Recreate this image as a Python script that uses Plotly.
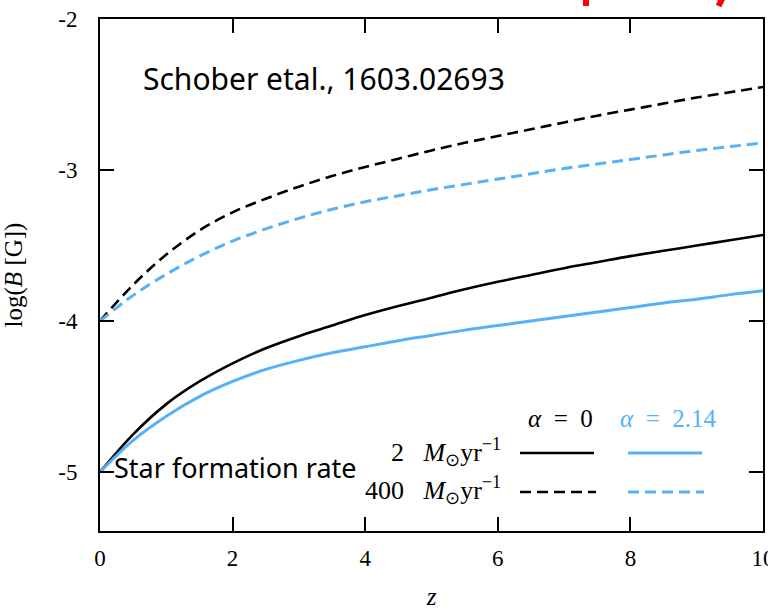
import plotly.graph_objects as go

# redshift grid
z = [0, 0.5, 1, 1.5, 2, 2.5, 3, 3.5, 4, 4.5, 5, 5.5, 6, 6.5, 7, 7.5, 8, 8.5, 9, 9.5, 10]

# log(B [G]) curves
sfr2_alpha0 = [-5.00, -4.75, -4.55, -4.40, -4.28, -4.18, -4.10, -4.03, -3.96, -3.90, -3.845,
               -3.79, -3.74, -3.695, -3.65, -3.61, -3.57, -3.535, -3.50, -3.465, -3.43]
sfr2_alpha214 = [-5.00, -4.79, -4.63, -4.50, -4.40, -4.32, -4.26, -4.21, -4.17, -4.13, -4.095,
                 -4.06, -4.03, -4.00, -3.97, -3.94, -3.91, -3.88, -3.855, -3.825, -3.80]
sfr400_alpha0 = [-4.00, -3.76, -3.56, -3.40, -3.28, -3.19, -3.11, -3.04, -2.98, -2.925, -2.87,
                 -2.82, -2.775, -2.73, -2.685, -2.64, -2.60, -2.56, -2.52, -2.485, -2.45]
sfr400_alpha214 = [-4.00, -3.83, -3.69, -3.57, -3.47, -3.39, -3.32, -3.26, -3.21, -3.17, -3.13,
                   -3.095, -3.06, -3.025, -2.99, -2.96, -2.93, -2.90, -2.87, -2.845, -2.82]

x_ticks = [0, 2, 4, 6, 8, 10]
x_ticktext = ["0", "2", "4", "6", "8", "10"]
y_ticks = [-5, -4, -3, -2]
y_ticktext = ["-5", "-4", "-3", "-2"]

BLACK = "#000000"
BLUE = "#56B1F7"
SERIF = "Liberation Serif"
COMIC = "Noto Sans"
DASH = "11px,6px"

fig = go.Figure()
series = [
    (sfr400_alpha0, BLACK, DASH, 2.6),
    (sfr400_alpha214, BLUE, DASH, 3),
    (sfr2_alpha0, BLACK, "solid", 2.6),
    (sfr2_alpha214, BLUE, "solid", 3),
]
for ys, col, dash, w in series:
    fig.add_trace(go.Scatter(x=z, y=ys, mode="lines",
                             line=dict(color=col, width=w, dash=dash, shape="spline", smoothing=1.0),
                             showlegend=False, hoverinfo="skip"))

W, H = 768, 610
x0p, x1p = 100, 763
y0p, y1p = 19, 531


def px(xp):
    return (xp - x0p) / (x1p - x0p)


def py(yp):
    return (y1p - yp) / (y1p - y0p)


shapes = []
# legend sample lines
shapes.append(dict(type="line", xref="paper", yref="paper", x0=px(520), x1=px(594), y0=py(453), y1=py(453),
                   line=dict(color=BLACK, width=2.6)))
shapes.append(dict(type="line", xref="paper", yref="paper", x0=px(628), x1=px(702), y0=py(453), y1=py(453),
                   line=dict(color=BLUE, width=3)))
shapes.append(dict(type="line", xref="paper", yref="paper", x0=px(520), x1=px(596), y0=py(492), y1=py(492),
                   line=dict(color=BLACK, width=2.6, dash=DASH)))
shapes.append(dict(type="line", xref="paper", yref="paper", x0=px(628), x1=px(704), y0=py(492), y1=py(492),
                   line=dict(color=BLUE, width=3, dash=DASH)))
# red stroke fragments at the top edge
shapes.append(dict(type="line", xref="paper", yref="paper", x0=px(586), x1=px(586), y0=py(-3), y1=py(6),
                   line=dict(color="#FF0000", width=6)))
shapes.append(dict(type="line", xref="paper", yref="paper", x0=px(723), x1=px(718.5), y0=py(-3), y1=py(6),
                   line=dict(color="#FF0000", width=6)))

NB = "\u00a0"
annotations = [
    dict(text="Schober etal., 1603.02693", x=px(141), y=py(78), xref="paper", yref="paper",
         xanchor="left", yanchor="middle", showarrow=False,
         font=dict(family=COMIC, size=30, color="black")),
    dict(text="Star formation rate", x=px(112), y=py(467), xref="paper", yref="paper",
         xanchor="left", yanchor="middle", showarrow=False,
         font=dict(family=COMIC, size=27, color="black")),
    dict(text="<i>α</i>" + NB * 2 + "=" + NB * 2 + "0", x=px(560), y=py(418), xref="paper", yref="paper",
         xanchor="center", yanchor="middle", showarrow=False,
         font=dict(family=SERIF, size=25, color="black")),
    dict(text="<i>α</i>" + NB * 2 + "=" + NB * 2 + "2.14", x=px(668), y=py(418), xref="paper", yref="paper",
         xanchor="center", yanchor="middle", showarrow=False,
         font=dict(family=SERIF, size=25, color=BLUE)),
    dict(text="2" + NB * 3 + "<i>M</i><sub>⊙</sub>yr<sup>−1</sup>", x=px(503), y=py(452), xref="paper", yref="paper",
         xanchor="right", yanchor="middle", showarrow=False,
         font=dict(family=SERIF, size=26, color="black")),
    dict(text="400" + NB * 3 + "<i>M</i><sub>⊙</sub>yr<sup>−1</sup>", x=px(503), y=py(490), xref="paper", yref="paper",
         xanchor="right", yanchor="middle", showarrow=False,
         font=dict(family=SERIF, size=26, color="black")),
]

fig.update_layout(
    width=W, height=H,
    margin=dict(l=x0p, r=W - x1p, t=y0p, b=H - y1p, pad=0),
    paper_bgcolor="white", plot_bgcolor="white",
    shapes=shapes, annotations=annotations,
    font=dict(family=SERIF, size=23, color="black"),
)
fig.update_xaxes(range=[0, 10], tickvals=x_ticks, ticktext=x_ticktext, automargin=False,
                 ticklabeloverflow="allow",
                 tickfont=dict(family=SERIF, size=23, color="black"),
                 showgrid=False, zeroline=False, showline=True, linecolor="black", linewidth=2,
                 mirror="ticks", ticks="inside", ticklen=14, tickwidth=1.5, tickcolor="black",
                 ticklabelstandoff=5,
                 title=dict(text="<i>z</i>", font=dict(family=SERIF, size=25, color="black"), standoff=27))
fig.update_yaxes(range=[-5.39, -2], tickvals=y_ticks, ticktext=y_ticktext, automargin=False,
                 tickfont=dict(family=SERIF, size=23, color="black"),
                 showgrid=False, zeroline=False, showline=True, linecolor="black", linewidth=2,
                 mirror="ticks", ticks="inside", ticklen=14, tickwidth=1.5, tickcolor="black",
                 ticklabelstandoff=16,
                 title=dict(text="log(<i>B</i> [G])", font=dict(family=SERIF, size=25, color="black"), standoff=28))

fig.write_html("out.html", config={"displayModeBar": False},
               post_script="document.body.style.margin='0';")
